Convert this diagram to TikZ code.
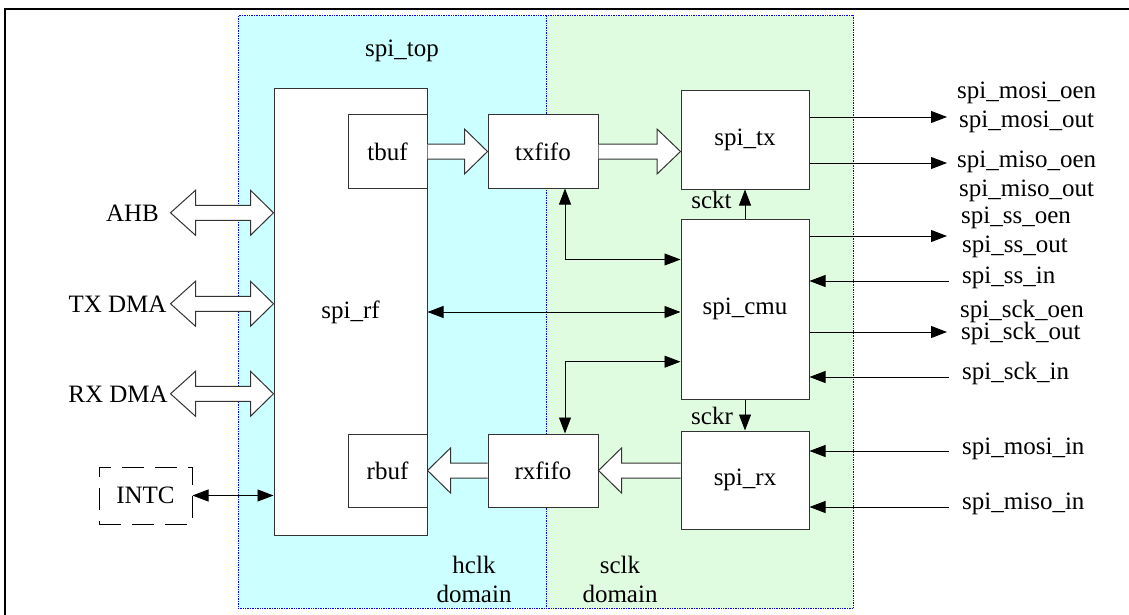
\documentclass[tikz,border=0pt]{standalone}
\usepackage{fontspec}
\setmainfont{Liberation Serif}
\usetikzlibrary{arrows.meta,calc}
\definecolor{hclkfill}{HTML}{CCFFFF}
\definecolor{sclkfill}{HTML}{E0FCE0}
\definecolor{edgecol}{HTML}{333333}
\newcommand\dualarrow[1]{\draw[hollow] (#1) -- ++(-23,-22.5) -- ++(0,15) -- ++(-55,0) -- ++(0,-15) -- ++(-25,22.5) -- ++(25,22.5) -- ++(0,-15) -- ++(55,0) -- ++(0,15) -- cycle;}
\begin{document}
\begin{tikzpicture}[x=1pt,y=-1pt,
  every node/.style={font=\fontsize{25}{29}\selectfont, inner sep=0pt},
  box/.style={draw=edgecol, line width=1pt, fill=white, align=center},
  dashbox/.style={draw=black, line width=1pt, dash pattern=on 22pt off 11pt, dash phase=0pt, align=center},
  region/.style={draw=blue, densely dotted, line width=0.7pt},
  sig/.style={draw=black, line width=0.9pt},
  sigout/.style={-{Triangle[length=16pt,width=12pt]}},
  sigboth/.style={{Triangle[length=16pt,width=12pt]}-{Triangle[length=16pt,width=12pt]}},
  hollow/.style={draw=edgecol, line width=1pt, fill=white},
  lbl/.style={anchor=base},
  rlbl/.style={anchor=base west}
]
\useasboundingbox (0,0) rectangle (1129,615);
% frame
\draw[line width=2pt] (5,615) -- (5,9) -- (1129,9);
% clock domains
\node[region, fill=hclkfill, minimum width=308pt, minimum height=592.3pt] (hclk) at (392,311.85) {};
\node[region, fill=sclkfill, minimum width=307pt, minimum height=592.3pt] (sclk) at (699.5,311.85) {};
% blocks
\node[box, minimum width=153pt, minimum height=446pt] (rf) at (350.5,312) {spi\_rf};
\node[box, minimum width=79pt, minimum height=73pt] (tbuf) at (387.5,151.5) {tbuf};
\node[box, minimum width=79pt, minimum height=73pt] (rbuf) at (387.5,470.5) {rbuf};
\node[box, minimum width=110pt, minimum height=73pt] (txfifo) at (543,151.5) {txfifo};
\node[box, minimum width=110pt, minimum height=73pt] (rxfifo) at (543,470.5) {rxfifo};
\node[box, minimum width=128pt, minimum height=98pt] (spitx) at (745,140) {spi\_tx};
\node[box, minimum width=128pt, minimum height=180pt] (cmu) at (745,309) {spi\_cmu};
\node[box, minimum width=128pt, minimum height=98pt] (spirx) at (745,480) {spi\_rx};
\node[dashbox, minimum width=93pt, minimum height=57pt] (intc) at (145.5,495.5) {INTC};
% labels
\node[lbl] (toplbl) at (402,57) {spi\_top};
\node[lbl] (ahblbl) at (132.5,221) {AHB};
\node[lbl] (txdmalbl) at (117.5,312) {TX DMA};
\node[lbl] (rxdmalbl) at (118,402) {RX DMA};
\node[lbl, align=center] (hclklbl) at (474,602) {hclk\\domain};
\node[lbl, align=center] (sclklbl) at (620,602) {sclk\\domain};
\node[lbl] (scktlbl) at (711.5,208) {sckt};
\node[lbl] (sckrlbl) at (712,424) {sckr};
\node[rlbl] (l1) at (957,99) {spi\_mosi\_oen};
\node[rlbl] (l2) at (959,128) {spi\_mosi\_out};
\node[rlbl] (l3) at (957,167) {spi\_miso\_oen};
\node[rlbl] (l4) at (959,196) {spi\_miso\_out};
\node[rlbl] (l5) at (961,223) {spi\_ss\_oen};
\node[rlbl] (l6) at (962,252) {spi\_ss\_out};
\node[rlbl] (l7) at (962,283) {spi\_ss\_in};
\node[rlbl] (l8) at (960,317) {spi\_sck\_oen};
\node[rlbl] (l9) at (961,339) {spi\_sck\_out};
\node[rlbl] (l10) at (962,379) {spi\_sck\_in};
\node[rlbl] (l11) at (962,454) {spi\_mosi\_in};
\node[rlbl] (l12) at (962,509) {spi\_miso\_in};
% free ends
\coordinate (o1) at (947,117);
\coordinate (o2) at (947,163);
\coordinate (o3) at (947,236);
\coordinate (i1) at (949,281);
\coordinate (o4) at (947,332);
\coordinate (i2) at (949,377);
\coordinate (i3) at (949,451);
\coordinate (i4) at (949,507);
\coordinate (j1) at (565,259.5);
\coordinate (j2) at (565,361.7);
% hollow bus arrows
\dualarrow{rf.west |- ahblbl}
\dualarrow{rf.west |- txdmalbl}
\dualarrow{rf.west |- rxdmalbl}
\draw[hollow] ($(tbuf.east)+(0,-7.5)$) -- ++(37,0) -- ++(0,-15) -- (txfifo.west) -- ($(tbuf.east)+(37,22.5)$) -- ++(0,-15) -- ($(tbuf.east)+(0,7.5)$);
\draw[hollow] ($(txfifo.east)+(0,-7.5)$) -- ++(58.5,0) -- ++(0,-15) -- (spitx.west |- txfifo.east) -- ($(txfifo.east)+(58.5,22.5)$) -- ++(0,-15) -- ($(txfifo.east)+(0,7.5)$);
\draw[hollow] ($(rxfifo.west)+(0,-7.5)$) -- ++(-37,0) -- ++(0,-15) -- (rbuf.east) -- ($(rxfifo.west)+(-37,22.5)$) -- ++(0,-15) -- ($(rxfifo.west)+(0,7.5)$);
\draw[hollow] ($(spirx.west |- rxfifo.east)+(0,-7.5)$) -- ++(-59,0) -- ++(0,-15) -- (rxfifo.east) -- ($(spirx.west |- rxfifo.east)+(-59,22.5)$) -- ++(0,-15) -- ($(spirx.west |- rxfifo.east)+(0,7.5)$);
% internal signals
\draw[sig, sigboth] (rf.east) -- (rf.east -| cmu.west);
\draw[sig, sigboth] (txfifo.south -| j1) |- (cmu.west |- j1);
\draw[sig, sigboth] (cmu.west |- j2) -| (rxfifo.north -| j2);
\draw[sig, sigout] (cmu.north) -- (spitx.south);
\draw[sig, sigout] (cmu.south) -- (spirx.north);
\draw[sig, sigboth] (intc.east) -- (intc.east -| rf.west);
% external signals
\draw[sig, sigout] (spitx.east |- o1) -- (o1);
\draw[sig, sigout] (spitx.east |- o2) -- (o2);
\draw[sig, sigout] (cmu.east |- o3) -- (o3);
\draw[sig, sigout] (i1) -- (cmu.east |- i1);
\draw[sig, sigout] (cmu.east |- o4) -- (o4);
\draw[sig, sigout] (i2) -- (cmu.east |- i2);
\draw[sig, sigout] (i3) -- (spirx.east |- i3);
\draw[sig, sigout] (i4) -- (spirx.east |- i4);
\end{tikzpicture}
\end{document}
